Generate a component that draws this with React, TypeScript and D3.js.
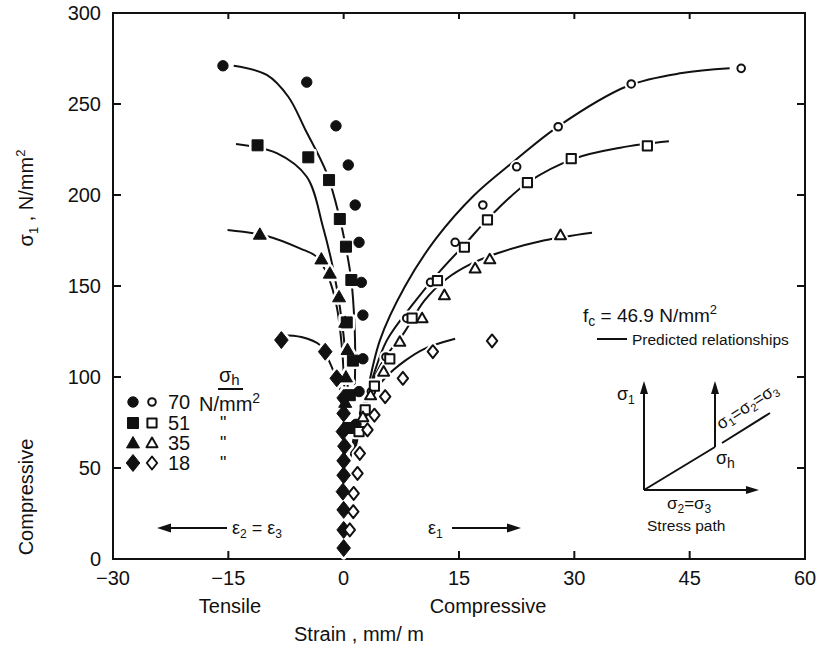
import * as d3 from "d3";

// tick values
const xTicks = [-30, -15, 0, 15, 30, 45, 60];
const yTicks = [0, 50, 100, 150, 200, 250, 300];

// confinement pressure sigma_h, N/mm2
const pressures = ["70", "51", "35", "18"];

// test points [strain mm/m, sigma1 N/mm2]; filled = lateral strain, open = axial strain
const lat70 = [[-15.7, 271], [-4.8, 262], [-1.0, 238], [0.6, 216.5], [1.5, 194.5], [2.0, 174], [2.3, 152], [2.5, 134], [2.5, 110], [2.0, 92], [1.6, 74]];
const ax70 = [[51.7, 269.6], [37.4, 261], [27.9, 237.5], [22.5, 215.5], [18.1, 194.5], [14.5, 174], [11.3, 152], [8.2, 132.3], [5.5, 111], [3.6, 92], [2.6, 80]];
const lat51 = [[-11.2, 227.3], [-4.6, 220.7], [-1.9, 208.2], [-0.5, 186.8], [0.3, 171.6], [1.0, 153.3], [0.4, 130], [1.2, 109], [0.8, 90], [0.6, 72]];
const ax51 = [[39.5, 227], [29.6, 220], [23.9, 206.8], [18.7, 186.3], [15.7, 171.3], [12.2, 152.9], [8.9, 132.3], [6.0, 110], [4.0, 95], [2.8, 82], [2.0, 70]];
const lat35 = [[-10.9, 178.4], [-2.9, 164.8], [-1.8, 157], [-0.6, 144], [0.2, 130], [0.5, 115], [0.3, 100], [0.2, 86]];
const ax35 = [[28.2, 178], [19.0, 164.7], [17.1, 159.7], [13.1, 145], [10.2, 132.3], [7.3, 119.4], [5.2, 103], [3.5, 90], [2.5, 78]];
const lat18 = [[-8.1, 120.3], [-2.4, 113.9], [-0.9, 99.3], [0, 88.5], [0, 80], [-0.1, 70], [0.1, 62], [0, 54], [0, 46], [-0.1, 37], [0, 27], [0, 16], [0, 6]];
const ax18 = [[19.3, 119.8], [11.6, 113.9], [7.7, 99.3], [5.4, 89.2], [4.0, 79], [3.1, 71], [2.1, 58], [1.8, 47], [1.3, 36], [1.25, 26], [0.8, 16]];

// predicted relationships
const predLat70 = [[-14.3, 271], [-10, 266], [-7.2, 254], [-5.0, 236], [-2.2, 212], [-0.5, 187], [0.3, 171], [1.0, 153], [1.4, 130], [1.5, 110], [1.4, 88]];
const predAx70 = [[1.5, 60], [2.6, 82], [4.7, 120], [8, 150], [12, 176], [17, 200], [22, 218], [28, 238], [37, 260], [44, 267], [50.2, 269.6]];
const predLat51 = [[-14.0, 228], [-8.7, 223], [-4.8, 210], [-2.7, 182.6], [-1.4, 160], [-0.5, 138.6], [0.3, 110], [0.6, 88]];
const predAx51 = [[1.2, 58], [2.5, 82], [3.8, 100], [5.6, 120], [9, 140], [12.5, 158], [16, 174], [19, 188], [24, 207], [30, 220], [36, 226], [42.3, 229.5]];
const predLat35 = [[-15.1, 180.8], [-10, 177.5], [-5.7, 170.7], [-3.5, 166], [-2.0, 155], [-0.9, 138.6], [-0.2, 115], [0.1, 92]];
const predAx35 = [[1.0, 58], [2.2, 80], [4, 100], [5.6, 112], [7.8, 124], [10.5, 142], [13.4, 154], [16.5, 162], [20, 168], [26, 175], [32.3, 179.3]];
const predLat18 = [[-8, 123], [-5.5, 122], [-3.1, 117.6], [-1.6, 106], [-0.6, 95], [0, 84]];
const predAx18 = [[0.8, 52], [1.5, 70], [3, 86], [5.5, 100], [8, 109], [10.5, 115.5], [14.5, 121]];

const x = d3.scaleLinear().domain([-30, 60]).range([113, 805]);
const y = d3.scaleLinear().domain([0, 300]).range([559, 13]);

const line = d3
  .line<number[]>()
  .x((d) => x(d[0]))
  .y((d) => y(d[1]))
  .curve(d3.curveCatmullRom.alpha(0.5));

const FONT = "'Liberation Sans', Arial, sans-serif";

const shapePath = (shape: string, open: boolean) => {
  if (shape === "square") {
    const s = open ? 4.6 : 5.5;
    return `M${-s},${-s}H${s}V${s}H${-s}Z`;
  }
  if (shape === "triangle") {
    const s = open ? 5.5 : 6.5;
    return `M0,${-s}L${s},${s * 0.75}L${-s},${s * 0.75}Z`;
  }
  if (shape === "diamond") {
    const s = open ? 6.5 : 8.5;
    return `M0,${-s}L${s * 0.8},0L0,${s}L${-s * 0.8},0Z`;
  }
  const r = open ? 3.8 : 5.2;
  return `M${r},0A${r},${r} 0 1,1 ${-r},0A${r},${r} 0 1,1 ${r},0Z`;
};

const Marker = ({ shape, open, cx, cy, halo }: any) => (
  <path
    d={shapePath(shape, open)}
    transform={`translate(${cx},${cy})`}
    fill={halo ? "#fff" : open ? "#fff" : "#111"}
    stroke={halo ? "#fff" : "#111"}
    strokeWidth={halo ? 6 : open ? 2 : 1}
    strokeLinejoin="round"
  />
);

const groups = [
  { shape: "circle", lat: lat70, ax: ax70, pl: predLat70, pa: predAx70 },
  { shape: "square", lat: lat51, ax: ax51, pl: predLat51, pa: predAx51 },
  { shape: "triangle", lat: lat35, ax: ax35, pl: predLat35, pa: predAx35 },
  { shape: "diamond", lat: lat18, ax: ax18, pl: predLat18, pa: predAx18 },
];

export default function App() {
  const points: any[] = [];
  groups.forEach((g) => {
    g.lat.forEach((d) => points.push({ shape: g.shape, open: false, cx: x(d[0]), cy: y(d[1]) }));
    g.ax.forEach((d) => points.push({ shape: g.shape, open: true, cx: x(d[0]), cy: y(d[1]) }));
  });

  const legendRows = [402, 423, 443, 463];

  return (
    <svg
      width={819}
      height={655}
      style={{ position: "absolute", left: 0, top: 0, background: "#fff" }}
      fontFamily={FONT}
    >
      {/* frame */}
      <rect x={113} y={13} width={692} height={546} fill="none" stroke="#111" strokeWidth={2} />
      {yTicks.slice(1, -1).map((t) => (
        <g key={"yt" + t}>
          <line x1={113} x2={121} y1={y(t)} y2={y(t)} stroke="#111" strokeWidth={2} />
          <line x1={805} x2={797} y1={y(t)} y2={y(t)} stroke="#111" strokeWidth={2} />
        </g>
      ))}
      {xTicks.slice(1, -1).map((t) => (
        <g key={"xt" + t}>
          <line x1={x(t)} x2={x(t)} y1={559} y2={551} stroke="#111" strokeWidth={2} />
          <line x1={x(t)} x2={x(t)} y1={13} y2={19} stroke="#111" strokeWidth={2} />
        </g>
      ))}
      {yTicks.map((t) => (
        <text key={"yl" + t} x={101} y={y(t)} dy="0.36em" textAnchor="end" fontSize={20} fill="#111">
          {t}
        </text>
      ))}
      {xTicks.map((t) => (
        <text key={"xl" + t} x={x(t)} y={585} textAnchor="middle" fontSize={20} fill="#111">
          {t < 0 ? "\u2212" + Math.abs(t) : t}
        </text>
      ))}

      {/* axis titles */}
      <text x={230} y={613} textAnchor="middle" fontSize={20} fill="#111">Tensile</text>
      <text x={488} y={613} textAnchor="middle" fontSize={20} fill="#111">Compressive</text>
      <text x={359} y={641} textAnchor="middle" fontSize={20} fill="#111">Strain , mm/ m</text>
      <text transform="translate(33,497) rotate(-90)" textAnchor="middle" fontSize={20} fill="#111">
        Compressive
      </text>
      <text transform="translate(33,198) rotate(-90)" textAnchor="middle" fontSize={20} fill="#111">
        σ<tspan fontSize={13} dy={5}>1</tspan>
        <tspan dy={-5}> ,  N/mm</tspan>
        <tspan fontSize={13} dy={-8}>2</tspan>
      </text>

      {/* predicted relationships */}
      {groups.map((g, i) => (
        <g key={"pc" + i} fill="none" stroke="#111" strokeWidth={2}>
          <path d={line(g.pl as any) || ""} />
          <path d={line(g.pa as any) || ""} />
        </g>
      ))}

      {/* test points */}
      {points.map((p, i) => (
        <Marker key={"h" + i} {...p} halo />
      ))}
      {points.map((p, i) => (
        <Marker key={"m" + i} {...p} />
      ))}

      {/* legend */}
      <text x={219} y={382} fontSize={20} fill="#111">
        σ<tspan fontSize={15} dy={3}>h</tspan>
      </text>
      <line x1={218} x2={243} y1={389} y2={389} stroke="#111" strokeWidth={2} />
      {groups.map((g, i) => (
        <g key={"lg" + i}>
          <Marker shape={g.shape} open={false} cx={133} cy={legendRows[i]} />
          <Marker shape={g.shape} open cx={152} cy={legendRows[i]} />
          <text x={168} y={legendRows[i]} dy="0.36em" fontSize={20} fill="#111">
            {pressures[i]}
          </text>
          {i === 0 ? (
            <text x={199} y={legendRows[i] + 2} dy="0.36em" fontSize={20} fill="#111">
              N/mm<tspan fontSize={14} dy={-8}>2</tspan>
            </text>
          ) : (
            <text x={220} y={legendRows[i]} dy="0.36em" fontSize={18} fill="#111">"</text>
          )}
        </g>
      ))}

      {/* fc note */}
      <text x={583} y={322} fontSize={19} fill="#111">
        f<tspan fontSize={14} dy={4}>c</tspan>
        <tspan dy={-4}> = 46.9 N/mm</tspan>
        <tspan fontSize={13} dy={-8}>2</tspan>
      </text>
      <line x1={597} x2={627} y1={339} y2={339} stroke="#111" strokeWidth={2} />
      <text x={632} y={345} fontSize={15.5} fill="#111">Predicted  relationships</text>

      {/* strain direction arrows */}
      <line x1={168} x2={227} y1={528} y2={528} stroke="#111" strokeWidth={2} />
      <path d="M157,528L171,523.5L171,532.5Z" fill="#111" />
      <text x={232} y={534} fontSize={18} fill="#111">
        ε<tspan fontSize={12} dy={4}>2</tspan>
        <tspan dy={-4}> = ε</tspan>
        <tspan fontSize={12} dy={4}>3</tspan>
      </text>
      <text x={428} y={534} fontSize={18} fill="#111">
        ε<tspan fontSize={12} dy={4}>1</tspan>
      </text>
      <line x1={452} x2={510} y1={528} y2={528} stroke="#111" strokeWidth={2} />
      <path d="M521,528L507,523.5L507,532.5Z" fill="#111" />

      {/* stress path inset */}
      <g stroke="#111" strokeWidth={2} fill="none">
        <line x1={644} x2={644} y1={490} y2={392} />
        <line x1={715} x2={715} y1={447} y2={392} />
        <line x1={644} x2={748} y1={490} y2={490} />
        <line x1={644} x2={715} y1={490} y2={447} />
        <line x1={722} x2={770} y1={443} y2={413} />
      </g>
      <path d="M644,381L640,394L648,394Z" fill="#111" />
      <path d="M715,381L711,394L719,394Z" fill="#111" />
      <path d="M759,490L746,486L746,494Z" fill="#111" />
      <text x={617} y={400} fontSize={18} fill="#111">
        σ<tspan fontSize={12} dy={4}>1</tspan>
      </text>
      <text x={716} y={464} fontSize={18} fill="#111">
        σ<tspan fontSize={14} dy={4}>h</tspan>
      </text>
      <text transform="translate(721,430) rotate(-33)" fontSize={17} fill="#111">
        σ<tspan fontSize={11} dy={3}>1</tspan>
        <tspan dy={-3}>=σ</tspan>
        <tspan fontSize={11} dy={3}>2</tspan>
        <tspan dy={-3}>=σ</tspan>
        <tspan fontSize={11} dy={3}>3</tspan>
      </text>
      <text x={667} y={509} fontSize={17} fill="#111">
        σ<tspan fontSize={12} dy={4}>2</tspan>
        <tspan dy={-4}>=σ</tspan>
        <tspan fontSize={12} dy={4}>3</tspan>
      </text>
      <text x={647} y={531} fontSize={15.5} fill="#111">Stress path</text>
    </svg>
  );
}
